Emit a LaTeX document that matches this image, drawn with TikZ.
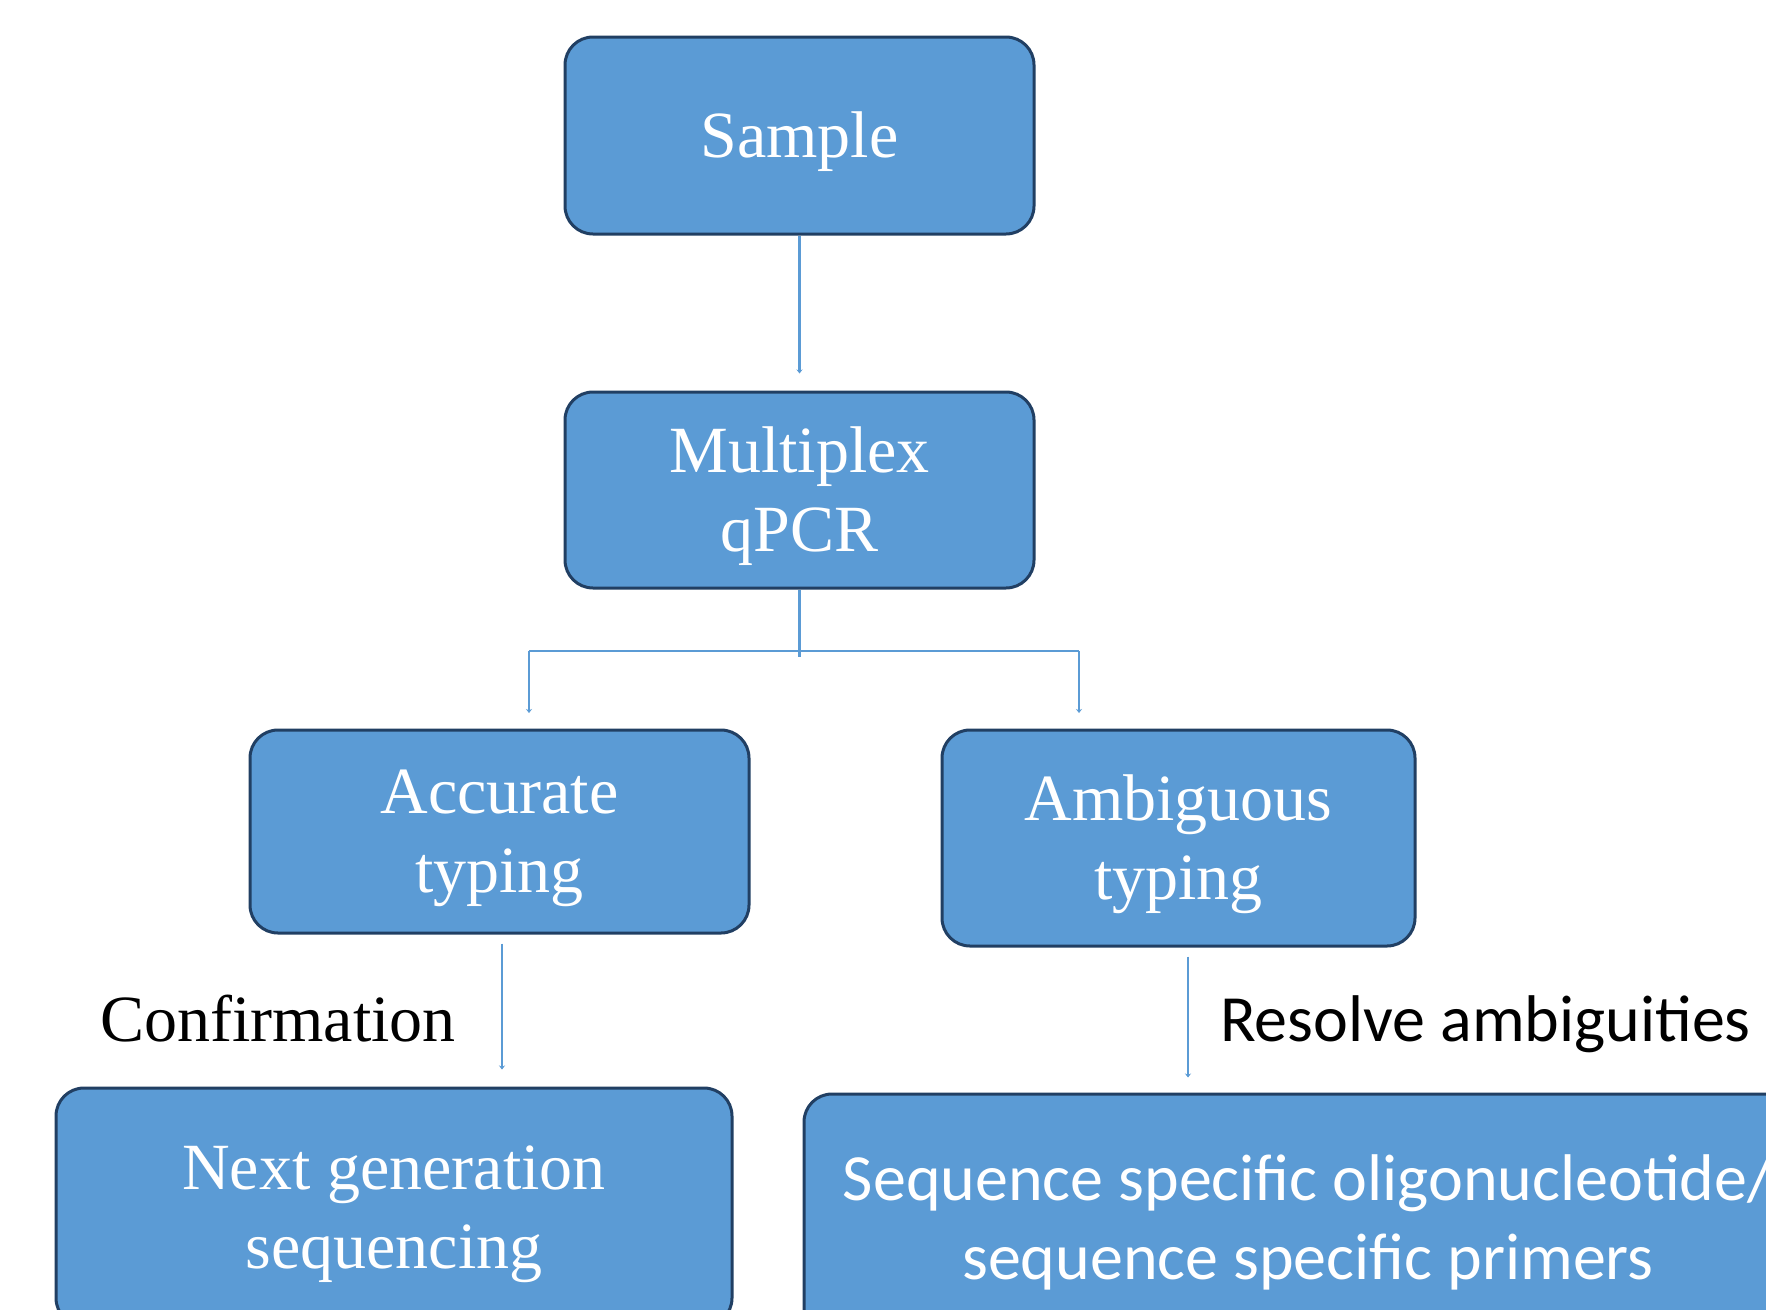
\documentclass[tikz,border=0pt]{standalone}
\usepackage{fontspec}
\setmainfont{Liberation Serif}
\newfontfamily\calib{Carlito}
\usetikzlibrary{arrows.meta}
\definecolor{boxblue}{HTML}{5B9BD5}
\definecolor{boxedge}{HTML}{213F63}
\newcommand\toppad{\rule{0pt}{58pt}}
\begin{document}
\begin{tikzpicture}[x=1pt,y=-1pt,
  box/.style={draw=boxedge, line width=3pt, fill=boxblue, rounded corners=28pt,
    text=white, align=center, font=\fontsize{66}{79}\selectfont, inner sep=0pt},
  conn/.style={draw=boxblue, line width=2.2pt},
  arr/.style={conn, -{Stealth[length=4pt,width=6pt]}},
  lab/.style={font=\fontsize{66}{79}\selectfont, text=black, inner sep=0pt}]
\useasboundingbox (0,0) rectangle (1766,1309);
\clip (0,0) rectangle (1766,1309);
\fill[white] (0,0) rectangle (1766,1309);

\node[box, minimum width=469pt, minimum height=197pt] (sample) at (799.5,135.5) {\toppad Sample};
\node[box, minimum width=469pt, minimum height=196pt] (multi) at (799.5,490) {\toppad Multiplex\\qPCR};
\node[box, minimum width=499pt, minimum height=203pt] (acc) at (499.5,831.5) {\toppad Accurate\\typing};
\node[box, minimum width=473pt, minimum height=216pt] (amb) at (1178.5,838) {\toppad Ambiguous\\typing};
\node[box, minimum width=676pt, minimum height=238pt] (ngs) at (394,1207) {\toppad Next generation\\sequencing};
\node[box, minimum width=1008pt, minimum height=244pt, font=\calib\fontsize{66}{79}\selectfont] (sso) at (1308,1216) {\toppad Sequence specific oligonucleotide/\\sequence specific primers};

\node[lab] (conf) at (278,1019) {Confirmation};
\node[lab, anchor=west, font=\calib\fontsize{66}{79}\selectfont] (res) at (1220,1024) {Resolve ambiguities};

\coordinate (bj) at (804,657);
\coordinate (bl) at (529,651);
\coordinate (br) at (1079,651);
\coordinate (tl) at (529,713);
\coordinate (tr) at (1079,713);

\draw[arr] (sample.south) -- ([yshift=17pt]multi.north);
\draw[conn] (multi.south) -- (multi.south |- bj);
\draw[conn] (bl) -- (br);
\draw[arr] (bl) -- (tl);
\draw[arr] (br) -- (tr);
\draw[arr] ([xshift=2.5pt,yshift=-9pt]acc.south) -- ++(0,126);
\draw[arr] ([xshift=9.5pt,yshift=-9pt]amb.south) -- ++(0,121);
\end{tikzpicture}
\end{document}
